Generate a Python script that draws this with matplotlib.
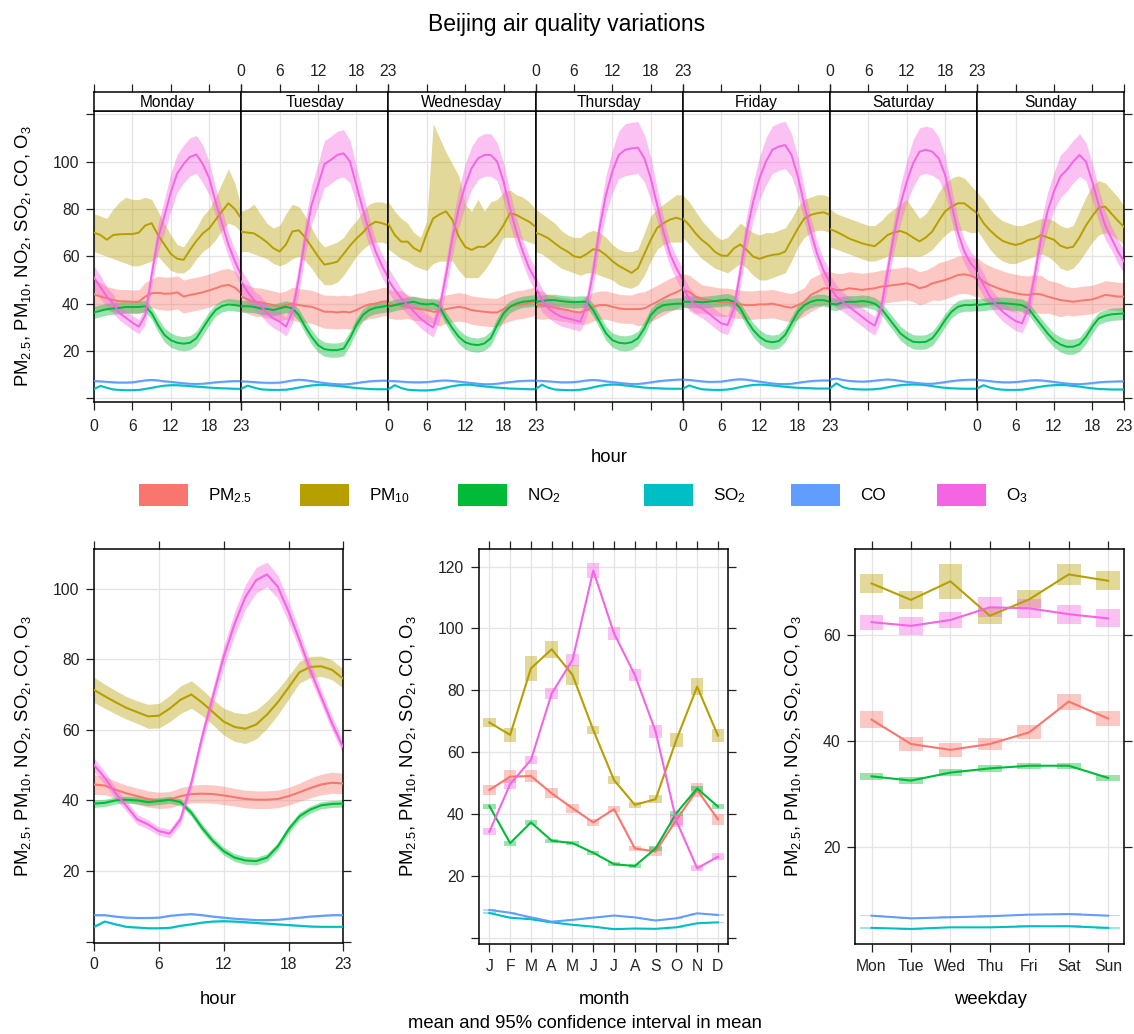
import numpy as np
import matplotlib
matplotlib.use("Agg")
import matplotlib.pyplot as plt
from matplotlib.patches import Rectangle

plt.rcParams['font.family'] = ['Liberation Sans', 'DejaVu Sans']
plt.rcParams['mathtext.default'] = 'regular'

# ---------------- data ----------------
pollutants = ['PM$_{2.5}$', 'PM$_{10}$', 'NO$_2$', 'SO$_2$', 'CO', 'O$_3$']
colours = ['#F8766D', '#B79F00', '#00BA38', '#00BFC4', '#619CFF', '#F564E3']
day_names = ['Monday', 'Tuesday', 'Wednesday', 'Thursday', 'Friday', 'Saturday', 'Sunday']
hours = list(range(24))

# day x hour means (Mon..Sun, 0..23h)
pm25_week = [
    [44, 43, 42.3, 41.5, 41, 41, 40.8, 40.8, 43, 44.4, 44.6, 44.2, 44.3, 44.8, 43, 43.7, 44.2, 44.8, 45.6, 46.5, 47.5, 47.9, 46.8, 44.4],
    [43, 41.8, 40.8, 40.6, 40, 39.4, 38.7, 39.4, 40, 39.4, 39, 38.7, 37.7, 36.6, 36.6, 36.3, 36.6, 36.3, 37.3, 38.7, 39.7, 40, 40.8, 41.1],
    [40, 39.4, 39.4, 38.7, 38, 37.7, 37.3, 36.6, 36.6, 37.7, 38.2, 38.7, 38.2, 37.3, 36.9, 36.6, 36.3, 36.3, 37.7, 38.7, 39.4, 39.7, 40.4, 41.1],
    [39.7, 39.4, 38.7, 38.3, 37.7, 37.3, 36.6, 36.3, 37.3, 38.7, 39.4, 39.4, 38.7, 38, 37.7, 37.7, 37.7, 38, 39.4, 40.8, 42.3, 43.7, 44.8, 46.2],
    [45.8, 45, 43, 42, 41.5, 41, 40.6, 40.6, 40, 39.7, 39.4, 39.4, 39.7, 39.7, 40, 39.4, 38.7, 38.3, 39.4, 40.8, 43.7, 45, 46.5, 46.5],
    [46.5, 45.8, 45.8, 46.5, 46.2, 45.8, 46.2, 46.5, 47.2, 47.5, 47.9, 48.2, 48.6, 47.9, 46.5, 47.2, 48.6, 49.3, 50, 51, 52.1, 52.4, 51.8, 50.7],
    [51.4, 49.3, 47.9, 46.8, 45.8, 45, 44.4, 43.9, 43.7, 44.2, 43.9, 43, 42.3, 41.5, 41.2, 40.8, 41.2, 41.5, 41.8, 42.7, 43.7, 43.4, 43, 43],
]
pm25_week_ci = [
    [6, 6, 5, 5, 5, 5, 5, 5, 6, 6, 7, 7, 7, 7, 7, 7, 7, 7, 7, 7, 7, 7, 7, 6],
    [6, 6, 6, 6, 6, 6, 6, 6, 7, 7, 7, 7, 7, 7, 7, 7, 7, 7, 7, 6, 6, 6, 6, 6],
    [6, 6, 6, 5, 5, 5, 5, 5, 6, 6, 6, 6, 6, 6, 6, 6, 6, 6, 6, 6, 6, 6, 6, 6],
    [6, 6, 5, 5, 5, 5, 5, 5, 6, 6, 6, 6, 6, 6, 6, 6, 7, 7, 7, 7, 7, 7, 7, 7],
    [7, 7, 7, 6, 6, 6, 6, 6, 6, 6, 6, 6, 6, 6, 6, 6, 6, 6, 6, 6, 7, 7, 7, 7],
    [7, 7, 7, 7, 7, 7, 7, 7, 7, 7, 7, 7, 7, 7, 7, 7, 7, 8, 8, 8, 8, 8, 8, 8],
    [8, 8, 8, 8, 8, 8, 8, 8, 8, 8, 8, 7, 7, 7, 6, 6, 6, 6, 6, 6, 6, 6, 6, 6],
]
pm10_week = [
    [70, 69, 67, 69, 69.3, 69.4, 69.4, 70, 73, 74, 69, 65, 61, 59, 58.5, 62.7, 66.5, 69.7, 71.8, 75.4, 79, 82.4, 80, 76],
    [70.4, 70, 69.7, 68, 66, 63.5, 62, 65, 70.5, 71, 68, 64, 60, 56.5, 57, 57.7, 61, 64.5, 67.5, 70, 73, 74.6, 74, 73],
    [73.7, 69, 66.2, 66.2, 63.4, 62, 69.7, 76, 77.7, 79, 75.4, 68.3, 64, 62.7, 64, 64, 65.9, 69, 73.2, 78.2, 77.5, 76, 74.6, 72.5],
    [70, 69, 67.6, 65.5, 63.5, 62, 60, 59.5, 61, 63, 62.5, 60.5, 58, 56, 54.5, 53, 55, 61, 67, 72, 74, 75.5, 76.3, 75.4],
    [76, 73.2, 69.7, 66.9, 64.8, 62, 60.3, 60.2, 63.4, 65, 62.7, 59.9, 58.9, 59.9, 60.6, 60.9, 62, 66.9, 71.8, 76, 77.5, 78.2, 78.6, 77.5],
    [71.5, 70.4, 69, 67.5, 66.5, 65.5, 64.8, 64.3, 66.5, 69, 70.1, 70.7, 69.7, 67.9, 66.3, 68, 70.5, 75, 79, 81, 82.4, 82.4, 80.3, 78.2],
    [78.5, 74, 71, 68.5, 66.5, 65.5, 64.8, 65.5, 66.9, 67.5, 69, 68, 67, 64.5, 63.5, 64, 68, 73, 77, 80.5, 81, 78, 75, 72.3],
]
pm10_week_lo = [
    [62, 61, 60, 59, 58, 57, 56, 56, 57, 58, 60, 57, 54, 53, 53, 55, 59, 62, 64, 67, 71, 74, 73, 70],
    [62, 62, 61, 60, 59, 57, 56, 57, 59, 60, 58, 55, 51, 48, 48, 49, 52, 56, 60, 63, 65, 66, 66, 65],
    [63, 61, 59, 58, 56, 55, 54, 57, 58, 58, 58, 54, 51, 51, 51, 54, 58, 63, 68, 68, 68, 67, 66, 65],
    [62, 61, 59, 57, 55, 54, 53, 52, 53, 53, 52, 51, 50, 48, 47, 46.5, 48, 52, 58, 63, 65, 66, 66, 66],
    [68, 65, 62, 59, 57, 55, 54, 53, 55, 57, 55, 52, 50, 50, 51, 52, 53, 58, 64, 68, 70, 71, 71, 70],
    [64, 63, 62, 61, 60, 59, 58, 58, 59, 60, 60, 60, 60, 60, 60, 61, 63, 66, 69, 71, 71, 71, 70, 70],
    [71, 67, 63, 60, 58, 57, 57, 58, 59, 60, 61, 60, 58, 55, 54, 55, 58, 62, 66, 69, 70, 69, 67, 65],
]
pm10_week_hi = [
    [78, 77, 76, 80, 83, 85, 84, 84, 85, 84, 79, 74, 69, 65, 64, 68, 72, 77, 80, 85, 91, 97, 91, 81],
    [79, 80, 82, 78, 74, 72, 73, 78, 82, 81, 77, 72, 67, 64, 65, 66, 68, 72, 75, 79, 82, 83, 83, 82],
    [83, 79, 76, 74, 70, 68, 75, 116, 110, 104, 99, 94, 82, 79, 84, 79, 83, 84, 87, 88, 86, 85, 83, 80],
    [80, 78, 76, 74, 71, 69, 68, 68, 70, 71, 70, 68, 65, 63, 62, 62, 63, 70, 77, 80, 82, 84, 86, 86],
    [86, 83, 79, 75, 72, 69, 67, 68, 71, 74, 72, 70, 69, 70, 70, 71, 72, 76, 81, 84, 85, 86, 86, 85],
    [80, 78, 77, 76, 75, 74, 73, 73, 75, 78, 80, 82, 84, 80, 76, 78, 82, 87, 91, 93, 94, 93, 90, 87],
    [87, 84, 80, 77, 75, 74, 73, 73, 74, 75, 76, 76, 75, 73, 72, 73, 79, 85, 90, 92, 91, 88, 85, 81],
]
no2_week = [
    [36.3, 37, 37.7, 38, 38.2, 38.6, 38.6, 38.6, 38.9, 36, 31, 26.8, 24.6, 23.5, 23.1, 23.5, 25.4, 29.6, 33.8, 37.3, 39, 39.7, 39.4, 39],
    [38.9, 38.9, 38.7, 38, 37.8, 37.3, 38, 38.7, 38, 35.2, 30.3, 26, 22.5, 20.8, 20.4, 20.4, 21, 25.4, 31, 35.2, 37.3, 38.3, 38.7, 39.2],
    [38.7, 39.4, 40, 40.4, 40.8, 40, 39.7, 40, 38.7, 33.8, 29.6, 26, 23.7, 22.8, 22.5, 23.2, 25.4, 31, 35.9, 38.7, 40, 40.8, 41.1, 41.5],
    [40.8, 41.1, 41.5, 41.5, 41.1, 40.8, 40.6, 40.8, 40.8, 37.3, 32.4, 27.5, 24.6, 23.5, 23.2, 23.7, 25.4, 29.6, 35.2, 38, 39.4, 39.7, 40, 40],
    [40.8, 40.8, 40.8, 40.6, 40.8, 41.1, 41.4, 41.7, 40.8, 38, 33, 28.9, 26, 24.2, 23.7, 24.2, 26.8, 31.7, 36.6, 39.4, 40.8, 41.5, 41.5, 40.8],
    [40, 39.7, 40.6, 40.8, 40.8, 41.1, 40.8, 40, 38, 34.5, 31, 27.5, 25.4, 23.9, 23.7, 23.9, 25.4, 28.9, 33.1, 36.6, 38.7, 39.4, 39.4, 39.7],
    [39.4, 39.7, 40, 40.2, 40.2, 40, 39.7, 39.4, 38, 34.5, 31, 27.5, 24.6, 22.8, 21.8, 21.8, 22.8, 26, 30.3, 33.8, 34.9, 35.5, 35.7, 35.9],
]
no2_week_ci = [
    [2.5, 2.5, 2.5, 2.5, 2.5, 2.5, 2.5, 2.5, 2.5, 2.5, 2.8, 3, 3, 3, 3, 3, 3, 3, 2.8, 2.5, 2.5, 2.5, 2.5, 2.5],
    [2.5, 2.5, 2.5, 2.5, 2.5, 2.5, 2.5, 2.5, 2.5, 2.5, 2.8, 3, 3, 3, 3, 3, 3, 3, 2.8, 2.5, 2.5, 2.5, 2.5, 2.5],
    [2.4, 2.4, 2.4, 2.4, 2.4, 2.4, 2.4, 2.4, 2.5, 2.6, 2.8, 3, 3, 3, 3, 3, 3, 3, 2.8, 2.5, 2.4, 2.4, 2.4, 2.4],
    [2.5, 2.5, 2.5, 2.5, 2.5, 2.5, 2.5, 2.5, 2.5, 2.6, 2.8, 3, 3, 3.2, 3.2, 3.2, 3, 3, 2.8, 2.5, 2.5, 2.5, 2.5, 2.5],
    [2.5, 2.5, 2.5, 2.5, 2.5, 2.5, 2.6, 2.6, 2.6, 2.6, 2.8, 3, 3, 3, 3, 3, 3, 3, 2.8, 2.5, 2.5, 2.5, 2.5, 2.5],
    [2.6, 2.6, 2.6, 2.6, 2.6, 2.6, 2.6, 2.6, 2.6, 2.7, 2.8, 3, 3, 3, 3, 3, 3, 3, 2.8, 2.6, 2.6, 2.6, 2.6, 2.6],
    [2.6, 2.6, 2.6, 2.6, 2.6, 2.6, 2.6, 2.6, 2.6, 2.7, 2.8, 3, 3, 3.2, 3.2, 3.2, 3, 3, 2.8, 2.6, 2.6, 2.6, 2.6, 2.6],
]
so2_week = [
    [4.0, 5.3, 4.5, 3.8, 3.6, 3.5, 3.5, 3.6, 4.0, 4.5, 5.0, 5.4, 5.6, 5.6, 5.4, 5.2, 5.0, 4.8, 4.6, 4.4, 4.3, 4.2, 4.1, 4.0],
    [4.1, 5.4, 4.6, 3.9, 3.7, 3.6, 3.6, 3.7, 4.1, 4.6, 5.1, 5.5, 5.7, 5.7, 5.5, 5.3, 5.0, 4.7, 4.4, 4.2, 4.0, 3.9, 3.9, 3.9],
    [3.9, 5.6, 4.4, 3.7, 3.5, 3.4, 3.4, 3.6, 4.0, 4.6, 5.2, 5.6, 5.8, 5.7, 5.4, 5.1, 4.8, 4.6, 4.4, 4.2, 4.1, 4.0, 3.9, 3.9],
    [4.0, 5.8, 4.5, 3.8, 3.6, 3.5, 3.5, 3.7, 4.1, 4.7, 5.3, 5.7, 5.9, 5.8, 5.5, 5.2, 4.9, 4.6, 4.4, 4.3, 4.2, 4.1, 4.1, 4.1],
    [4.1, 5.5, 4.6, 3.9, 3.7, 3.6, 3.6, 3.8, 4.2, 4.8, 5.3, 5.7, 5.8, 5.7, 5.5, 5.2, 4.9, 4.7, 4.5, 4.4, 4.3, 4.2, 4.2, 4.2],
    [4.3, 6.4, 4.8, 4.1, 3.9, 3.8, 3.8, 3.9, 4.2, 4.7, 5.2, 5.6, 5.8, 5.9, 5.8, 5.6, 5.2, 4.8, 4.5, 4.3, 4.2, 4.1, 4.1, 4.1],
    [4.2, 5.6, 4.6, 4.0, 3.7, 3.6, 3.6, 3.7, 4.1, 4.6, 5.0, 5.4, 5.6, 5.7, 5.6, 5.3, 5.0, 4.6, 4.3, 4.0, 3.9, 3.8, 3.8, 3.8],
]
co_week = [
    [7.3, 7.2, 7.0, 6.8, 6.7, 6.7, 6.8, 7.2, 7.6, 7.8, 7.6, 7.2, 7.0, 6.7, 6.4, 6.2, 6.1, 6.2, 6.5, 6.8, 7.0, 7.2, 7.3, 7.3],
    [7.2, 7.1, 6.9, 6.7, 6.6, 6.6, 6.7, 7.1, 7.6, 7.9, 7.7, 7.3, 6.9, 6.5, 6.2, 6.0, 5.9, 6.1, 6.5, 6.9, 7.2, 7.4, 7.5, 7.5],
    [7.4, 7.3, 7.1, 6.9, 6.8, 6.8, 6.9, 7.2, 7.5, 7.6, 7.4, 7.1, 6.8, 6.5, 6.2, 6.0, 6.0, 6.2, 6.6, 6.9, 7.2, 7.4, 7.5, 7.5],
    [7.5, 7.4, 7.2, 7.0, 6.8, 6.8, 6.9, 7.2, 7.6, 7.8, 7.6, 7.2, 6.9, 6.6, 6.3, 6.1, 6.1, 6.4, 6.8, 7.2, 7.5, 7.7, 7.9, 8.0],
    [7.9, 7.8, 7.5, 7.2, 7.0, 7.0, 7.1, 7.5, 7.9, 8.1, 7.9, 7.5, 7.1, 6.7, 6.3, 6.1, 6.0, 6.2, 6.6, 7.0, 7.3, 7.5, 7.6, 7.6],
    [8.0, 8.4, 7.8, 7.4, 7.2, 7.1, 7.2, 7.5, 7.8, 8.0, 7.8, 7.4, 7.0, 6.7, 6.4, 6.2, 6.2, 6.5, 6.9, 7.3, 7.6, 7.8, 7.9, 7.9],
    [7.8, 7.6, 7.3, 7.0, 6.8, 6.8, 6.9, 7.2, 7.5, 7.7, 7.6, 7.3, 7.0, 6.6, 6.3, 6.1, 6.0, 6.2, 6.5, 6.8, 7.0, 7.1, 7.2, 7.2],
]
so2_week_ci = 0.4
co_week_ci = 0.45
o3_week = [
    [51, 47, 43, 40, 36, 34, 32, 30.3, 35, 52, 67.6, 77, 87, 95, 99, 102, 103, 99, 93, 83, 74, 65, 58, 52],
    [49.3, 45, 41.5, 39.4, 36, 33.8, 32.4, 30.3, 36.6, 50.7, 67.6, 81.7, 90, 98.9, 100.7, 102.8, 103.5, 100, 90, 80, 70.4, 62, 56, 51],
    [50, 45.8, 42.3, 39.4, 36.6, 33.8, 31.7, 29.9, 38, 52, 67.6, 80.3, 90, 97.2, 101.4, 102.8, 102.8, 100, 91.5, 80.3, 70.4, 62, 55, 50],
    [47, 41.5, 38, 36, 34.5, 33.8, 33.1, 32.4, 39.4, 53.5, 71.8, 86, 95.8, 102.8, 105, 105.6, 105.9, 101.4, 93, 81.7, 70.4, 61, 55, 50],
    [47, 42, 39.4, 38, 36, 33.8, 31.7, 31, 38, 53.5, 70.4, 83, 93, 100, 105, 106.3, 107, 102.8, 93.7, 81.7, 70.4, 61, 54, 49],
    [47, 43, 40.8, 38.7, 36.6, 34.5, 32.4, 30.7, 38, 53.5, 69, 81.7, 91.5, 99.3, 104.2, 105, 104.2, 101.4, 94.4, 82, 70, 62, 57, 54],
    [53, 47.9, 43, 39.4, 36.6, 34.5, 32.7, 31.7, 38, 52, 67.6, 78.9, 87.3, 93.7, 96.5, 100, 102.8, 100, 91.5, 81.7, 73.2, 67.6, 62, 57.7],
]
o3_week_ci = [
    [5, 5, 4, 4, 3, 3, 3, 3, 4, 5, 6, 7, 8, 8, 8, 8, 8, 8, 7, 6, 6, 5, 5, 5],
    [5, 5, 4, 4, 4, 4, 4, 4, 5, 6, 7, 8, 9, 10, 10, 10, 10, 9, 8, 7, 6, 5, 5, 5],
    [5, 5, 4, 4, 4, 4, 4, 4, 5, 6, 7, 8, 9, 9, 9, 9, 9, 8, 8, 7, 6, 5, 5, 5],
    [5, 5, 4, 4, 4, 4, 4, 4, 5, 6, 7, 8, 9, 10, 11, 11, 11, 10, 9, 7, 6, 5, 5, 5],
    [5, 5, 4, 4, 4, 4, 4, 4, 5, 6, 7, 8, 9, 10, 10, 10, 10, 9, 8, 7, 6, 5, 5, 5],
    [5, 5, 4, 4, 4, 4, 4, 4, 5, 6, 7, 8, 9, 10, 10, 10, 10, 9, 8, 7, 6, 5, 5, 5],
    [5, 5, 4, 4, 4, 4, 4, 4, 5, 6, 7, 8, 8, 9, 9, 9, 9, 8, 8, 7, 6, 5, 5, 5],
]

# hour of day
pm25_hour = [44.5, 44.2, 43, 42, 41.2, 40.4, 40, 40.2, 41.2, 41.8, 41.9, 41.8, 41.4, 40.9, 40.4, 40.2, 40.2, 40.4, 41.2, 42.3, 43.5, 44.5, 45, 44.8]
pm25_hour_ci = [2.8, 2.6, 2.4, 2.3, 2.3, 2.3, 2.3, 2.3, 2.4, 2.5, 2.6, 2.6, 2.6, 2.5, 2.5, 2.5, 2.5, 2.5, 2.5, 2.6, 2.8, 2.9, 3.0, 2.9]
pm10_hour = [71.3, 69.5, 67.8, 66.2, 65, 63.8, 64, 66, 68.5, 70, 67.7, 65, 62.3, 60.8, 60.3, 61.5, 64.3, 67.8, 72, 76.3, 77.8, 78, 77, 74.6]
pm10_hour_ci = [3.6, 3.4, 3.3, 3.2, 3.2, 3.4, 3.5, 3.7, 3.9, 3.9, 3.7, 3.6, 3.8, 4.1, 4.2, 4.1, 3.9, 3.6, 3.3, 3.1, 3.0, 2.9, 2.8, 2.7]
no2_hour = [39.1, 39.3, 40, 40.2, 40, 39.5, 39.8, 40.2, 39.5, 36.5, 32.2, 28.5, 25.6, 23.8, 23, 22.8, 23.8, 27, 31.8, 35.5, 37.4, 38.6, 39, 39.1]
no2_hour_ci = [1.1, 1.0, 1.0, 1.0, 1.0, 1.0, 1.0, 1.0, 1.0, 1.0, 1.1, 1.1, 1.1, 1.1, 1.1, 1.1, 1.1, 1.1, 1.1, 1.1, 1.0, 1.0, 1.0, 1.0]
so2_hour = [4.2, 5.7, 4.9, 4.2, 4.0, 3.8, 3.8, 3.9, 4.5, 4.9, 5.4, 5.7, 5.8, 5.7, 5.5, 5.3, 5.1, 4.9, 4.7, 4.5, 4.3, 4.2, 4.2, 4.2]
co_hour = [7.5, 7.5, 7.1, 6.8, 6.7, 6.7, 6.8, 7.3, 7.6, 7.8, 7.5, 7.1, 6.8, 6.5, 6.3, 6.1, 6.1, 6.2, 6.5, 6.8, 7.1, 7.3, 7.5, 7.5]
so2_hour_ci = 0.25
co_hour_ci = 0.25
o3_hour = [50, 46.4, 42, 38.4, 34.6, 33.2, 31.3, 30.6, 34.6, 45, 58, 69.4, 80.7, 90, 97.6, 102.4, 104, 100.5, 93.4, 85.4, 76.9, 69.4, 61.9, 55.3]
o3_hour_ci = [2, 1.8, 1.6, 1.5, 1.4, 1.3, 1.2, 1.2, 1.4, 1.8, 2.2, 2.6, 3, 3.3, 3.5, 3.6, 3.5, 3.3, 3, 2.6, 2.3, 2.1, 2, 1.9]

# month
months = list(range(1, 13))
month_labels = ['J', 'F', 'M', 'A', 'M', 'J', 'J', 'A', 'S', 'O', 'N', 'D']
pm25_month = [47.8, 52.1, 52.3, 46.7, 41.9, 37.3, 41.6, 28.9, 27.9, 38.1, 47.8, 38.3]
pm25_month_ci = [1.6, 2.0, 1.9, 1.6, 1.5, 1.2, 1.0, 0.8, 1.6, 1.7, 2.2, 1.7]
pm10_month = [69.6, 65.6, 87.1, 93.3, 85, 67.2, 51, 43, 44.8, 64, 81.2, 65.4]
pm10_month_ci = [1.6, 2.2, 4.1, 2.7, 3.2, 1.4, 1.2, 1.0, 1.3, 2.2, 2.7, 2.2]
no2_month = [42.6, 30.6, 37.3, 31.4, 30.6, 27.5, 23.8, 23.2, 28.9, 40.3, 48.3, 42.4]
no2_month_ci = [0.8, 0.8, 0.8, 0.7, 0.7, 0.6, 0.6, 0.6, 0.7, 0.8, 0.9, 0.8]
so2_month = [8.0, 6.5, 6.0, 5.0, 4.2, 3.6, 2.8, 3.0, 2.9, 3.4, 4.7, 5.0]
co_month = [9.0, 8.1, 6.6, 5.2, 5.8, 6.5, 7.2, 6.6, 5.6, 6.3, 7.9, 7.4]
so2_month_ci = 0.2
co_month_ci = 0.2
o3_month = [34.3, 49.7, 57.5, 79, 89.8, 118.7, 98.4, 85, 66.7, 37.8, 22.5, 26.2]
o3_month_ci = [1.2, 1.7, 1.4, 1.9, 2.0, 2.4, 2.1, 2.0, 2.2, 1.9, 0.9, 1.1]

# weekday
weekdays = list(range(1, 8))
weekday_labels = ['Mon', 'Tue', 'Wed', 'Thu', 'Fri', 'Sat', 'Sun']
pm25_wday = [44, 39.4, 38.3, 39.4, 41.6, 47.4, 44.2]
pm25_wday_ci = [1.6, 1.3, 1.3, 1.2, 1.3, 1.5, 1.4]
pm10_wday = [69.7, 66.6, 70.1, 63.6, 66.7, 71.4, 70.2]
pm10_wday_ci = [1.8, 1.7, 3.3, 1.5, 1.7, 1.9, 1.8]
no2_wday = [33.3, 32.5, 34, 34.8, 35.3, 35.3, 33]
no2_wday_ci = [0.6, 0.6, 0.6, 0.6, 0.6, 0.6, 0.6]
so2_wday = [4.7, 4.5, 4.8, 4.8, 5.0, 5.0, 4.7]
co_wday = [7.0, 6.5, 6.7, 6.9, 7.2, 7.3, 7.0]
so2_wday_ci = 0.15
co_wday_ci = 0.15
o3_wday = [62.4, 61.7, 62.8, 65.2, 65, 63.9, 63.1]
o3_wday_ci = [1.4, 1.7, 1.6, 1.9, 1.8, 1.8, 1.7]

# ---------------- layout ----------------
W, H = 1134, 1034
fig = plt.figure(figsize=(W / 100, H / 100), dpi=100)
ylab = 'PM$_{2.5}$, PM$_{10}$, NO$_2$, SO$_2$, CO, O$_3$'
grid_col = '#e4e4e4'
TICK = 11.3
LAB = 13.3


def px_axes(x0, y0, x1, y1):
    return fig.add_axes([x0 / W, 1 - y1 / H, (x1 - x0) / W, (y1 - y0) / H])


def frame(ax):
    for s in ax.spines.values():
        s.set_linewidth(1.1)
    ax.tick_params(direction='out', length=5.5, width=0.9, labelsize=TICK,
                   pad=5, colors='#222222')
    ax.grid(True, color=grid_col, lw=0.9)
    ax.set_axisbelow(True)


def band(ax, x, lo, hi, c):
    ax.fill_between(x, lo, hi, color=c, alpha=0.4, lw=0, zorder=2)


# ---- top panel: weekday x hour ----
x_left, x_right = 94, 1124.3
pw = (x_right - x_left) / 7
for d in range(7):
    xa = x_left + d * pw
    ax = px_axes(xa, 110.7, xa + pw, 401.7)
    frame(ax)
    rows = [
        (pm25_week[d], np.array(pm25_week[d]) - pm25_week_ci[d], np.array(pm25_week[d]) + pm25_week_ci[d]),
        (pm10_week[d], pm10_week_lo[d], pm10_week_hi[d]),
        (no2_week[d], np.array(no2_week[d]) - no2_week_ci[d], np.array(no2_week[d]) + no2_week_ci[d]),
        (so2_week[d], np.array(so2_week[d]) - so2_week_ci, np.array(so2_week[d]) + so2_week_ci),
        (co_week[d], np.array(co_week[d]) - co_week_ci, np.array(co_week[d]) + co_week_ci),
        (o3_week[d], np.array(o3_week[d]) - o3_week_ci[d], np.array(o3_week[d]) + o3_week_ci[d]),
    ]
    for (m, lo, hi), c in zip(rows, colours):
        band(ax, hours, lo, hi, c)
        ax.plot(hours, m, color=c, lw=1.4, zorder=3)
    ax.set_xlim(0, 23)
    ax.set_ylim(-1.4, 121.5)
    ax.set_xticks([0, 6, 12, 18, 23])
    ax.set_yticks([0, 20, 40, 60, 80, 100, 120])
    ax.set_yticklabels(['', '20', '40', '60', '80', '100', ''])
    ax.tick_params(axis='x', bottom=True, top=False, labelbottom=(d % 2 == 0), pad=7)
    ax.tick_params(axis='y', left=(d == 0), labelleft=(d == 0),
                   right=(d == 6), labelright=False, pad=5)

    st = px_axes(xa, 92.3, xa + pw, 110.7)
    for s in st.spines.values():
        s.set_linewidth(1.1)
    st.set_xlim(0, 23)
    st.set_xticks([0, 6, 12, 18, 23])
    st.set_yticks([])
    st.tick_params(axis='x', direction='out', length=5.5, width=0.9, labelsize=TICK,
                   pad=4, bottom=False, labelbottom=False, top=True,
                   labeltop=(d % 2 == 1), colors='#222222')
    st.text(0.5, 0.45, day_names[d], transform=st.transAxes, ha='center',
            va='center', fontsize=11.2)

fig.text(23 / W, 1 - 256 / H, ylab, rotation=90, ha='center', va='center', fontsize=LAB)
fig.text(609 / W, 1 - 458 / H, 'hour', ha='center', va='center', fontsize=LAB)
fig.text(0.5, 1 - 25 / H, 'Beijing air quality variations', ha='center', va='center', fontsize=16.5)

# ---- legend ----
leg_x = [139, 300, 458, 644, 791, 937]
for lx, name, c in zip(leg_x, pollutants, colours):
    fig.patches.append(Rectangle((lx / W, 1 - 506 / H), 49 / W, 22 / H,
                                 transform=fig.transFigure, color=c, lw=0))
    fig.text((lx + 69) / W, 1 - 496 / H, name, ha='left', va='center', fontsize=12.3)

# ---- bottom left: hour ----
ax = px_axes(94, 549, 342.7, 942.7)
frame(ax)
hour_rows = [
    (pm25_hour, pm25_hour_ci), (pm10_hour, pm10_hour_ci), (no2_hour, no2_hour_ci),
    (so2_hour, so2_hour_ci), (co_hour, co_hour_ci), (o3_hour, o3_hour_ci),
]
for (m, ci), c in zip(hour_rows, colours):
    m = np.array(m)
    band(ax, hours, m - np.array(ci), m + np.array(ci), c)
    ax.plot(hours, m, color=c, lw=1.5, zorder=3)
ax.set_xlim(0, 23)
ax.set_ylim(-0.3, 111.2)
ax.set_xticks([0, 6, 12, 18, 23])
ax.set_yticks([0, 20, 40, 60, 80, 100])
ax.set_yticklabels(['', '20', '40', '60', '80', '100'])
ax.tick_params(top=True, right=True, labeltop=False, labelright=False)
fig.text(23 / W, 1 - 746 / H, ylab, rotation=90, ha='center', va='center', fontsize=LAB)
fig.text(218 / W, 1 - 1000 / H, 'hour', ha='center', va='center', fontsize=LAB)


def box_panel(ax, x, rows):
    for (m, ci), c in zip(rows, colours):
        ci = np.broadcast_to(np.array(ci, dtype=float), (len(x),))
        for xi, mi, hi in zip(x, m, ci):
            ax.add_patch(Rectangle((xi - 0.3, mi - hi), 0.6, 2 * hi, color=c,
                                   alpha=0.4, lw=0, zorder=2))
        ax.plot(x, m, color=c, lw=1.5, zorder=3)


# ---- bottom middle: month ----
ax = px_axes(479, 549, 728.3, 944.3)
frame(ax)
box_panel(ax, months, [
    (pm25_month, pm25_month_ci), (pm10_month, pm10_month_ci), (no2_month, no2_month_ci),
    (so2_month, so2_month_ci), (co_month, co_month_ci), (o3_month, o3_month_ci),
])
ax.set_xlim(0.5, 12.5)
ax.set_ylim(-2.1, 125.7)
ax.set_xticks(months)
ax.set_xticklabels(month_labels)
ax.set_yticks([0, 20, 40, 60, 80, 100, 120])
ax.set_yticklabels(['', '20', '40', '60', '80', '100', '120'])
ax.tick_params(top=True, right=True, labeltop=False, labelright=False)
fig.text(408 / W, 1 - 746 / H, ylab, rotation=90, ha='center', va='center', fontsize=LAB)
fig.text(604 / W, 1 - 1000 / H, 'month', ha='center', va='center', fontsize=LAB)
fig.text(585 / W, 1 - 1023 / H, 'mean and 95% confidence interval in mean',
         ha='center', va='center', fontsize=LAB)

# ---- bottom right: weekday ----
ax = px_axes(855, 549, 1124.3, 944.3)
frame(ax)
box_panel(ax, weekdays, [
    (pm25_wday, pm25_wday_ci), (pm10_wday, pm10_wday_ci), (no2_wday, no2_wday_ci),
    (so2_wday, so2_wday_ci), (co_wday, co_wday_ci), (o3_wday, o3_wday_ci),
])
ax.set_xlim(0.58, 7.41)
ax.set_ylim(1.6, 76.2)
ax.set_xticks(weekdays)
ax.set_xticklabels(weekday_labels)
ax.set_yticks([20, 40, 60])
ax.tick_params(top=True, right=True, labeltop=False, labelright=False)
fig.text(793 / W, 1 - 746 / H, ylab, rotation=90, ha='center', va='center', fontsize=LAB)
fig.text(990 / W, 1 - 1000 / H, 'weekday', ha='center', va='center', fontsize=LAB)

fig.savefig('out.png', dpi=100)
